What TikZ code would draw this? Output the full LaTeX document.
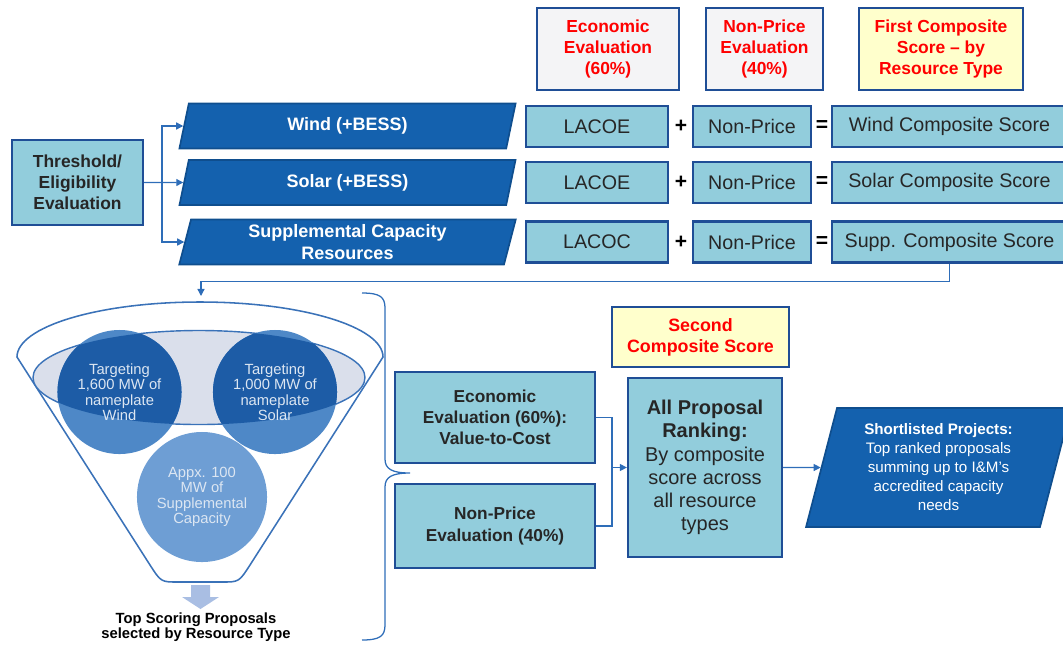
\documentclass[tikz,border=0pt]{standalone}
\usepackage{fontspec}
\setmainfont{Liberation Sans}
\usepackage{tikz}
\usetikzlibrary{arrows.meta}
\usetikzlibrary{calc}
\usetikzlibrary{shapes.geometric}

\definecolor{boxfill}{HTML}{92CDDC}
\definecolor{boxline}{HTML}{1F4E96}
\definecolor{parafill}{HTML}{1461AE}
\definecolor{paraline}{HTML}{0F4E8E}
\definecolor{hdrfill}{HTML}{F4F4F6}
\definecolor{hdryellow}{HTML}{FFFFCC}
\definecolor{connblue}{HTML}{2E6DB8}
\definecolor{funnelblue}{HTML}{3A72B8}
\definecolor{ellfill}{HTML}{DADFEB}
\definecolor{circdark}{HTML}{1D5CA6}
\definecolor{circmid}{HTML}{4E88C7}
\definecolor{circsupp}{HTML}{6E9ED4}
\definecolor{circtext}{HTML}{DCE6F2}
\definecolor{downfill}{HTML}{A9BEE3}

\begin{document}
\begin{tikzpicture}[x=0.025cm, y=-0.025cm,
		box/.style={draw=boxline, line width=1.6pt, fill=boxfill, align=center, inner sep=0pt, text=black!85},
		rowbox/.style={box, minimum height=1.025cm, font=\fontsize{14}{16}\selectfont},
		hdr/.style={draw=boxline, line width=1.6pt, fill=hdrfill, align=center, inner sep=0pt, text=red, minimum height=2.05cm, font=\bfseries\fontsize{12.4}{15}\selectfont},
		para/.style={trapezium, trapezium left angle=78, trapezium right angle=102, trapezium stretches=true, draw=paraline, line width=1.2pt, fill=parafill, text=white, align=center, inner sep=0pt, minimum width=8.425cm, minimum height=1.125cm, font=\bfseries\fontsize{12.8}{15.5}\selectfont},
		sign/.style={font=\bfseries\fontsize{15}{16}\selectfont, inner sep=0pt},
		blob/.style={circle, inner sep=0pt, fill=circmid, text=circtext, align=center, minimum size=3.1cm, font=\fontsize{10.5}{11}\selectfont},
		conn/.style={draw=connblue, line width=0.9pt},
		arr/.style={conn, -{Triangle[length=5pt, width=5pt]}}]

		\useasboundingbox (0,0) rectangle (1063,646);

		% column headers
		\node[hdr, minimum width=3.55cm] (heco) at (608,49) {Economic\\Evaluation\\(60\%)};
		\node[hdr, minimum width=2.925cm] (hnp) at (764.5,49) {Non-Price\\Evaluation\\(40\%)};
		\node[hdr, fill=hdryellow, minimum width=4.1cm] (hfirst) at (941,49) {First Composite\\Score \textendash{} by\\Resource Type};

		% screening and resource types
		\node[box, minimum width=3.275cm, minimum height=2.125cm, font=\bfseries\fontsize{12.4}{15}\selectfont] (thresh) at (77.5,182.5) {Threshold/\\Eligibility\\Evaluation};
		\node[para] (wind) at (347.5,126) {Wind (+BESS)};
		\node[para] (solar) at (347.5,182.5) {Solar (+BESS)};
		\node[para] (supp) at (347.5,242) {Supplemental Capacity\\Resources};

		% first composite rows
		\node[rowbox, minimum width=3.55cm] (lac1) at (597,126.5) {LACOE};
		\node[sign] (plus1) at (681,126.5) {+};
		\node[rowbox, minimum width=2.95cm] (np1) at (752,126.5) {Non-Price};
		\node[sign] (eq1) at (822,126.5) {=};
		\node[rowbox, minimum width=5.875cm] (cs1) at (949.5,126.5) {Wind Composite Score};

		\node[rowbox, minimum width=3.55cm] (lac2) at (597,182.5) {LACOE};
		\node[sign] (plus2) at (681,182.5) {+};
		\node[rowbox, minimum width=2.95cm] (np2) at (752,182.5) {Non-Price};
		\node[sign] (eq2) at (822,182.5) {=};
		\node[rowbox, minimum width=5.875cm] (cs2) at (949.5,182.5) {Solar Composite Score};

		\node[rowbox, minimum width=3.55cm] (lac3) at (597,242) {LACOC};
		\node[sign] (plus3) at (681,242) {+};
		\node[rowbox, minimum width=2.95cm] (np3) at (752,242) {Non-Price};
		\node[sign] (eq3) at (822,242) {=};
		\node[rowbox, minimum width=5.875cm] (cs3) at (949.5,242) {Supp. Composite Score};

		\coordinate (split) at (162,182.5);
		\draw[arr] (thresh.east) -- (solar.west);
		\draw[arr] (split) |- (wind.west);
		\draw[arr] (split) |- (supp.west);

		% funnel
		\coordinate (ftop) at (201,296);
		\coordinate (ectr) at (199,377.5);
		\draw[arr] (cs3.south) -- ++(0,18) -| (ftop);
		\draw[funnelblue, line width=1.1pt] (17,357) arc[start angle=180, end angle=360, x radius=183, y radius=55] -- (250,565) .. controls (239,582) .. (222,582) -- (178,582) .. controls (161,582) .. (150,565) -- cycle;
		\draw[funnelblue, line width=1pt, fill=ellfill] (ectr) ellipse [x radius=166, y radius=47];
		\node[blob, path picture={\fill[circdark] (ectr) ellipse [x radius=166, y radius=47];}] (cwind) at (119.5,392) {Targeting\\1,600 MW of\\nameplate\\Wind};
		\node[blob, path picture={\fill[circdark] (ectr) ellipse [x radius=166, y radius=47];}] (csolar) at (275,392) {Targeting\\1,000 MW of\\nameplate\\Solar};
		\node[blob, fill=circsupp, minimum size=3.25cm] (csupp) at (202,497) {Appx. 100\\MW of\\Supplemental\\Capacity};
		\fill[downfill] (191,585) -- (210,585) -- (210,597) -- (219,597) -- (200.5,609) -- (182,597) -- (191,597) -- cycle;
		\node[align=center, font=\bfseries\fontsize{10.5}{10.7}\selectfont] (topsc) at (196,627) {Top Scoring Proposals\\selected by Resource Type};

		% second stage
		\coordinate (btop) at (362,293);
		\coordinate (bbot) at (362,640);
		\coordinate (btip) at (410,473);
		\draw[conn] (btop) .. controls (380,293) and (385,297) .. (385,308) -- (385,459) .. controls (385,469) and (392,473) .. (btip) .. controls (392,473) and (385,477) .. (385,487) -- (385,625) .. controls (385,636) and (380,640) .. (bbot);

		\node[box, minimum width=5cm, minimum height=2.275cm, font=\bfseries\fontsize{12.3}{15}\selectfont] (eco) at (495,417.5) {Economic\\Evaluation (60\%):\\Value-to-Cost};
		\node[box, minimum width=5cm, minimum height=2.1cm, font=\bfseries\fontsize{12.3}{15}\selectfont] (nonp) at (495,526) {Non-Price\\Evaluation (40\%)};
		\node[hdr, fill=hdryellow, minimum width=4.425cm, minimum height=1.5cm, font=\bfseries\fontsize{12.7}{15}\selectfont] (second) at (700.5,337) {Second\\Composite Score};
		\node[box, minimum width=3.85cm, minimum height=4.475cm, font=\fontsize{14.2}{16.5}\selectfont] (rank) at (705,467.5) {\textbf{All Proposal}\\\textbf{Ranking:}\\By composite\\score across\\all resource\\types};
		\node[para, trapezium left angle=75.4, trapezium right angle=104.6, minimum width=6.625cm, minimum height=2.975cm, font=\fontsize{10.8}{13.5}\selectfont] (short) at (938.5,467.5) {\textbf{Shortlisted Projects:}\\Top ranked proposals\\summing up to I\&M's\\accredited capacity\\needs};

		\coordinate (join) at (612,467.5);
		\draw[conn] (eco.east) -| (join) |- (nonp.east);
		\draw[arr] (join) -- (rank.west);
		\draw[arr] (rank.east) -- (short.west);
	\end{tikzpicture}
\end{document}
